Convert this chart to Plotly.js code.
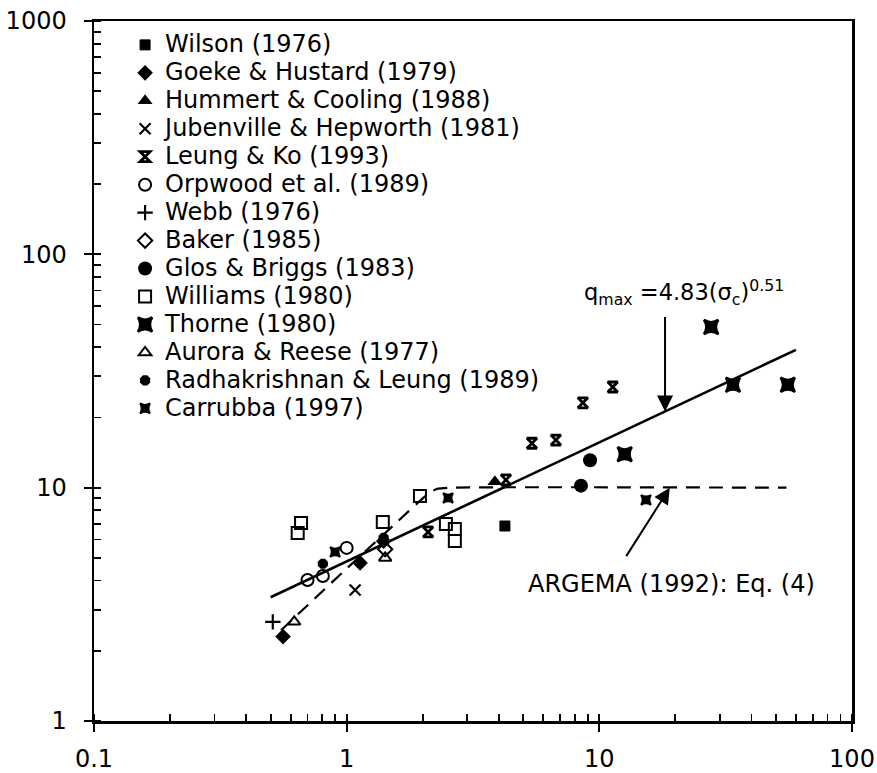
<!DOCTYPE html>
<html>
<head>
<meta charset="utf-8">
<script src="https://cdn.plot.ly/plotly-3.0.1.min.js"></script>
<style>
  html, body { margin: 0; padding: 0; background: #fff; }
  #chart { width: 877px; height: 773px; }
</style>
</head>
<body>
<div id="chart"></div>
<script>
// Maximum heat flux q_max versus compressive strength sigma_c, by source
const wilsonX = [4.23];                 const wilsonY = [6.85];
const goekeX = [0.56, 1.13, 1.40];      const goekeY = [2.30, 4.76, 5.90];
const hummertX = [3.86];                const hummertY = [10.6];
const jubenvilleX = [1.08];             const jubenvilleY = [3.64];
const leungX = [2.10, 4.27, 5.41, 6.73, 8.61, 11.3];
const leungY = [6.46, 10.8, 15.5, 16.0, 23.1, 27.0];
const orpwoodX = [0.70, 0.805, 1.00];   const orpwoodY = [4.02, 4.18, 5.52];
const webbX = [0.51];                   const webbY = [2.66];
const bakerX = [1.42];                  const bakerY = [5.45];
const glosX = [8.46, 9.19];             const glosY = [10.2, 13.1];
const williamsX = [0.64, 0.66, 1.39, 1.95, 2.47, 2.68, 2.68];
const williamsY = [6.40, 7.06, 7.13, 9.20, 6.99, 6.65, 5.91];
const thorneX = [12.6, 27.7, 33.8, 55.7]; const thorneY = [13.9, 48.8, 27.6, 27.6];
const auroraX = [0.62, 1.42];           const auroraY = [2.66, 5.00];
const radhaX = [0.805, 1.40];           const radhaY = [4.72, 6.10];
const carrubbaX = [0.90, 2.52, 15.3];   const carrubbaY = [5.30, 9.03, 8.86];

// Power-law fit q_max = 4.83 (sigma_c)^0.51
const fitCoef = 4.83, fitExp = 0.51;
const fitX = [0.5, 60];

// ARGEMA (1992) Eq. (4) curve
const argemaX = [0.55, 1.0, 1.6, 2.0, 2.15, 2.3, 2.6, 55];
const argemaY = [2.45, 4.5, 7.2, 9.0, 9.6, 9.9, 10, 10];

const xTicks = [0.1, 1, 10, 100];
const xTickText = ['0.1', '1', '10', '100'];
const yTicks = [1, 10, 100, 1000];
const yTickText = ['1', '10', '100', '1000'];

const FONT = 'DejaVu Sans, Arial, sans-serif';
const LABEL_PX = 24;
const label = s => '<span style="font-size:' + LABEL_PX + 'px">' + s + '</span>';

function pts(name, xs, ys, symbol, size, lineW) {
  const open = symbol.indexOf('open') >= 0;
  return {
    type: 'scatter', mode: 'markers', name: label(name), x: xs, y: ys,
    marker: {
      symbol: symbol, size: size, color: '#000',
      line: { color: '#000', width: lineW === undefined ? (open ? 2 : 0) : lineW }
    },
    hoverinfo: 'x+y'
  };
}

const fitY = fitX.map(s => fitCoef * Math.pow(s, fitExp));

const traces = [
  { type: 'scatter', mode: 'lines', x: argemaX, y: argemaY, showlegend: false,
    line: { color: '#000', width: 2.2, dash: '14px,9px', shape: 'spline', smoothing: 0.6 } },
  { type: 'scatter', mode: 'lines', x: fitX, y: fitY, showlegend: false,
    line: { color: '#000', width: 2.6 } },
  pts('Wilson (1976)', wilsonX, wilsonY, 'square', 10, 1),
  pts('Goeke &amp; Hustard (1979)', goekeX, goekeY, 'diamond', 12),
  pts('Hummert &amp; Cooling (1988)', hummertX, hummertY, 'triangle-up', 13),
  pts('Jubenville &amp; Hepworth (1981)', jubenvilleX, jubenvilleY, 'x-thin-open', 11, 2.2),
  pts('Leung &amp; Ko (1993)', leungX, leungY, 'hourglass-open', 10, 2.8),
  pts('Orpwood et al. (1989)', orpwoodX, orpwoodY, 'circle-open', 12),
  pts('Webb (1976)', webbX, webbY, 'cross-thin-open', 11, 2.2),
  pts('Baker (1985)', bakerX, bakerY, 'diamond-open', 11),
  pts('Glos &amp; Briggs (1983)', glosX, glosY, 'circle', 14),
  pts('Williams (1980)', williamsX, williamsY, 'square-open', 12),
  pts('Thorne (1980)', thorneX, thorneY, 'star-square', 13, 2.5),
  pts('Aurora &amp; Reese (1977)', auroraX, auroraY, 'triangle-up-open', 11),
  pts('Radhakrishnan &amp; Leung (1989)', radhaX, radhaY, 'octagon', 11),
  pts('Carrubba (1997)', carrubbaX, carrubbaY, 'star-square', 9, 2)
];

const axisCommon = {
  type: 'log', showgrid: false, zeroline: false,
  showline: true, linecolor: '#000', linewidth: 2.5, mirror: true,
  tickmode: 'array', ticks: 'outside', ticklen: 8, tickwidth: 2, tickcolor: '#000',
  tickfont: { family: FONT, size: 24, color: '#000' },
  minor: { dtick: 'D1', ticks: 'inside', ticklen: 7, tickwidth: 1.8, tickcolor: '#000', showgrid: false }
};

const layout = {
  width: 877, height: 773,
  margin: { l: 94, r: 25, t: 21, b: 52 },
  paper_bgcolor: '#fff', plot_bgcolor: '#fff',
  font: { family: FONT, color: '#000' },
  showlegend: true,
  legend: {
    x: 0.041, y: 0.993, xanchor: 'left', yanchor: 'top',
    bgcolor: 'rgba(0,0,0,0)', borderwidth: 0,
    font: { family: FONT, size: 19.2, color: '#000' },
    tracegroupgap: 0, itemclick: false, itemdoubleclick: false
  },
  xaxis: Object.assign({}, axisCommon, {
    range: [-1, 2], tickvals: xTicks, ticktext: xTickText, ticklabelstandoff: 7
  }),
  yaxis: Object.assign({}, axisCommon, {
    range: [0, 3], tickvals: yTicks, ticktext: yTickText, ticklabelstandoff: 12
  }),
  annotations: [
    { x: Math.log10(8.53), y: Math.log10(68.3), xref: 'x', yref: 'y',
      text: 'q<sub>max</sub> =4.83(σ<sub>c</sub>)<sup>0.51</sup>',
      showarrow: false, xanchor: 'left', yanchor: 'middle',
      font: { family: FONT, size: 22.5, color: '#000' } },
    { x: Math.log10(18.2), y: Math.log10(fitCoef * Math.pow(18.2, fitExp)), xref: 'x', yref: 'y',
      text: ' ', showarrow: true, ax: 0, ay: -103, arrowhead: 2, arrowsize: 1.6,
      arrowwidth: 2, arrowcolor: '#000', standoff: 0 },
    { x: Math.log10(72.6), y: Math.log10(3.87), xref: 'x', yref: 'y',
      text: 'ARGEMA (1992): Eq. (4)', showarrow: false, xanchor: 'right', yanchor: 'middle',
      font: { family: FONT, size: 24, color: '#000' } },
    { x: Math.log10(19.0), y: Math.log10(10), xref: 'x', yref: 'y',
      text: ' ', showarrow: true, ax: -47, ay: 74, arrowhead: 2, arrowsize: 1.6,
      arrowwidth: 2, arrowcolor: '#000', standoff: 0 }
  ]
};

Plotly.newPlot('chart', traces, layout, { displayModeBar: false, staticPlot: true });
</script>
</body>
</html>
